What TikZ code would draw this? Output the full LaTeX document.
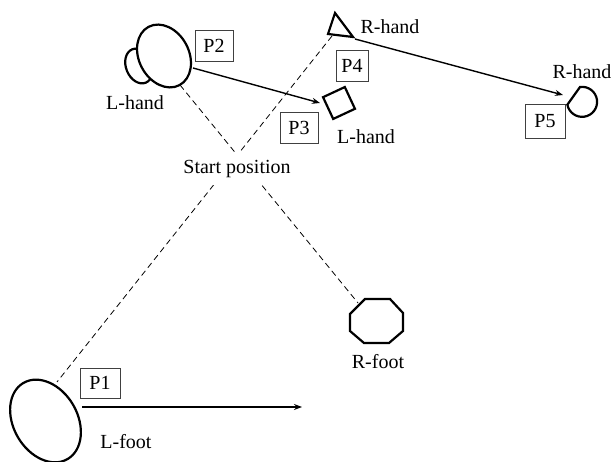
\documentclass[tikz,border=0pt]{standalone}
\usepackage{fontspec}
\setmainfont{Liberation Serif}
\newfontfamily\tnr{Liberation Serif}
\usetikzlibrary{shapes.geometric,arrows.meta}
\begin{document}
\begin{tikzpicture}[x=1pt,y=1pt,
  outl/.style={draw=black,line width=2.2pt},
  pbox/.style={draw=black!75,line width=0.8pt,minimum width=38pt,minimum height=31pt,inner sep=0pt,font=\tnr\fontsize{20}{22}\selectfont},
  lbl/.style={font=\tnr\fontsize{20}{22}\selectfont,inner sep=0pt},
  guide/.style={dash pattern=on 6pt off 4pt,line width=0.8pt},
  move/.style={line width=1.4pt,-{Stealth[length=8pt,width=6pt]}}]
\useasboundingbox (0,0) rectangle (612,462);

% named end points
\coordinate (a1) at (180,377);
\coordinate (a2) at (358,159);
\coordinate (b1) at (332,426);
\coordinate (b2) at (57,80);
\coordinate (p1s) at (82,55);
\coordinate (p1e) at (302,55);
\coordinate (p2s) at (193,394);
\coordinate (p2e) at (320,359);
\coordinate (p5s) at (355,423);
\coordinate (p5e) at (563,367);

% dashed guide lines
\draw[guide] (a1) -- (a2);
\draw[guide] (b1) -- (b2);
\node[lbl,fill=white,inner xsep=1pt,minimum height=32pt] (start) at (237,293) {Start position};

% L-hand
\node[outl,ellipse,minimum width=26pt,minimum height=36pt,inner sep=0pt,rotate=22] (lhs) at (139,396) {};
\node[outl,ellipse,fill=white,minimum width=50pt,minimum height=66pt,inner sep=0pt,rotate=28] (lhb) at (164,406) {};
\node[lbl] (lhl) at (135,359) {L-hand};
\node[pbox] (P2) at (214,416) {P2};

% square L-hand
\node[outl,rectangle,minimum size=24pt,inner sep=0pt,rotate=25] (sq) at (339,359) {};
\node[lbl] (sql) at (366,325) {L-hand};
\node[pbox] (P3) at (299,334) {P3};

% triangle R-hand
\coordinate (t1) at (335,449);
\coordinate (t2) at (328,428);
\coordinate (t3) at (353,425);
\draw[outl,line join=miter] (t1) -- (t2) -- (t3) -- cycle;
\node[lbl] (trl) at (390,435) {R-hand};
\node[pbox,minimum width=32pt] (P4) at (352,396) {P4};

% D shape R-hand
\draw[outl] (580,375) arc[start angle=98,end angle=-169,radius=15] -- cycle;
\node[lbl] (dl) at (582,390) {R-hand};
\node[pbox,minimum width=40pt,minimum height=34pt] (P5) at (545,341) {P5};

% R-foot octagon
\draw[outl] (365,163) -- (390,163) -- (403,149) -- (403,131) -- (389,119) -- (364,119) -- (350,131) -- (350,148) -- cycle;
\node[lbl] (rfl) at (378,100) {R-foot};

% L-foot
\node[outl,ellipse,minimum width=64pt,minimum height=88pt,inner sep=0pt,rotate=30] (lft) at (45.5,41) {};
\node[lbl] (lfl) at (126,20) {L-foot};
\node[pbox,minimum width=40pt,minimum height=30pt] (P1) at (100,79) {P1};

% movement arrows
\draw[move] (p1s) -- (p1e);
\draw[move] (p2s) -- (p2e);
\draw[move] (p5s) -- (p5e);
\end{tikzpicture}
\end{document}
